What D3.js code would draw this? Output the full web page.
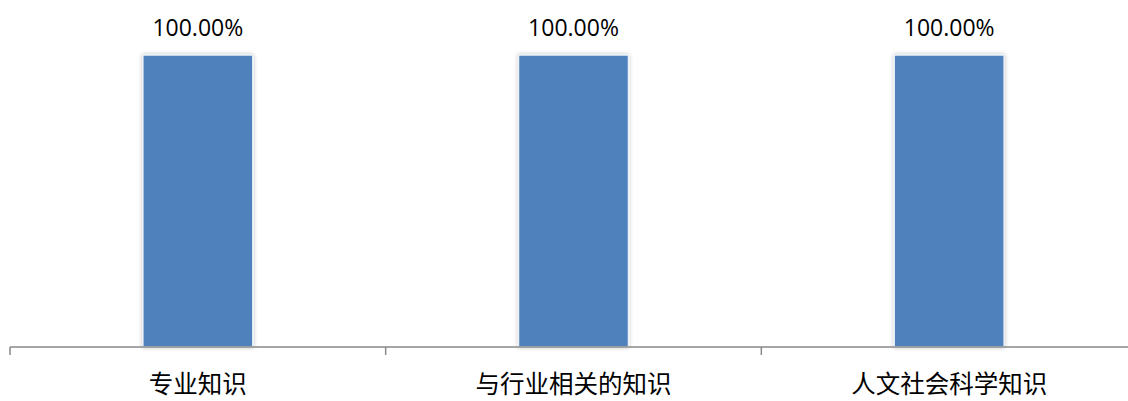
<!DOCTYPE html>
<html><head><meta charset="utf-8">
<script src="https://cdn.jsdelivr.net/npm/d3@7"></script>
<style>body{margin:0;background:#fff;}svg{display:block;}</style>
</head><body>
<svg id="chart" width="1128" height="401"></svg>
<script>
const categories = ["专业知识", "与行业相关的知识", "人文社会科学知识"];
const values = [1.0, 1.0, 1.0];
const valueLabels = ["100.00%", "100.00%", "100.00%"];

const svg = d3.select("#chart");
const x = d3.scaleBand().domain(categories).range([10, 1137]).paddingInner(0).paddingOuter(0);
const y = d3.scaleLinear().domain([0, 1]).range([347, 55]);
const bw = 110;

const defs = svg.append("defs");
const f = defs.append("filter").attr("id","sh").attr("x","-20%").attr("y","-20%").attr("width","140%").attr("height","140%");
f.append("feGaussianBlur").attr("in","SourceAlpha").attr("stdDeviation",2).attr("result","b");
f.append("feOffset").attr("in","b").attr("dx",0).attr("dy",0).attr("result","o");
f.append("feComponentTransfer").attr("in","o").attr("result","oa").append("feFuncA").attr("type","linear").attr("slope",0.25);
const m = f.append("feMerge"); m.append("feMergeNode").attr("in","oa"); m.append("feMergeNode").attr("in","SourceGraphic");

svg.selectAll("rect.bar").data(values).enter().append("rect")
  .attr("class","bar")
  .attr("x",(d,i)=>x(categories[i]) + x.bandwidth()/2 - bw/2)
  .attr("y",d=>y(d))
  .attr("width",bw)
  .attr("height",d=>y(0)-y(d))
  .attr("fill","#4F81BD")
  .attr("stroke","#eef2f8").attr("stroke-width",1.5)
  .attr("filter","url(#sh)");

svg.selectAll("text.vl").data(valueLabels).enter().append("text")
  .attr("x",(d,i)=>x(categories[i]) + x.bandwidth()/2)
  .attr("y",(d,i)=>y(values[i]) - 19)
  .attr("text-anchor","middle")
  .attr("font-family","'Open Sans','Liberation Sans',sans-serif")
  .attr("font-size",23).attr("fill","#000")
  .text(d=>d);

const g = svg.append("g").attr("transform","translate(0,347)");
g.append("line").attr("x1",10).attr("x2",1137).attr("y1",0).attr("y2",0).attr("stroke","#888").attr("stroke-width",1.5);
const ticks = [10].concat(categories.map(c=>x(c)+x.bandwidth()));
g.selectAll("line.t").data(ticks).enter().append("line")
  .attr("x1",d=>d).attr("x2",d=>d).attr("y1",0).attr("y2",8).attr("stroke","#888").attr("stroke-width",1.5);

svg.selectAll("text.cl").data(categories).enter().append("text")
  .attr("x",d=>x(d)+x.bandwidth()/2)
  .attr("y",393)
  .attr("text-anchor","middle")
  .attr("font-family","'Noto Sans CJK SC',sans-serif")
  .attr("font-size",24.5).attr("fill","#000")
  .text(d=>d);
</script>
</body></html>
